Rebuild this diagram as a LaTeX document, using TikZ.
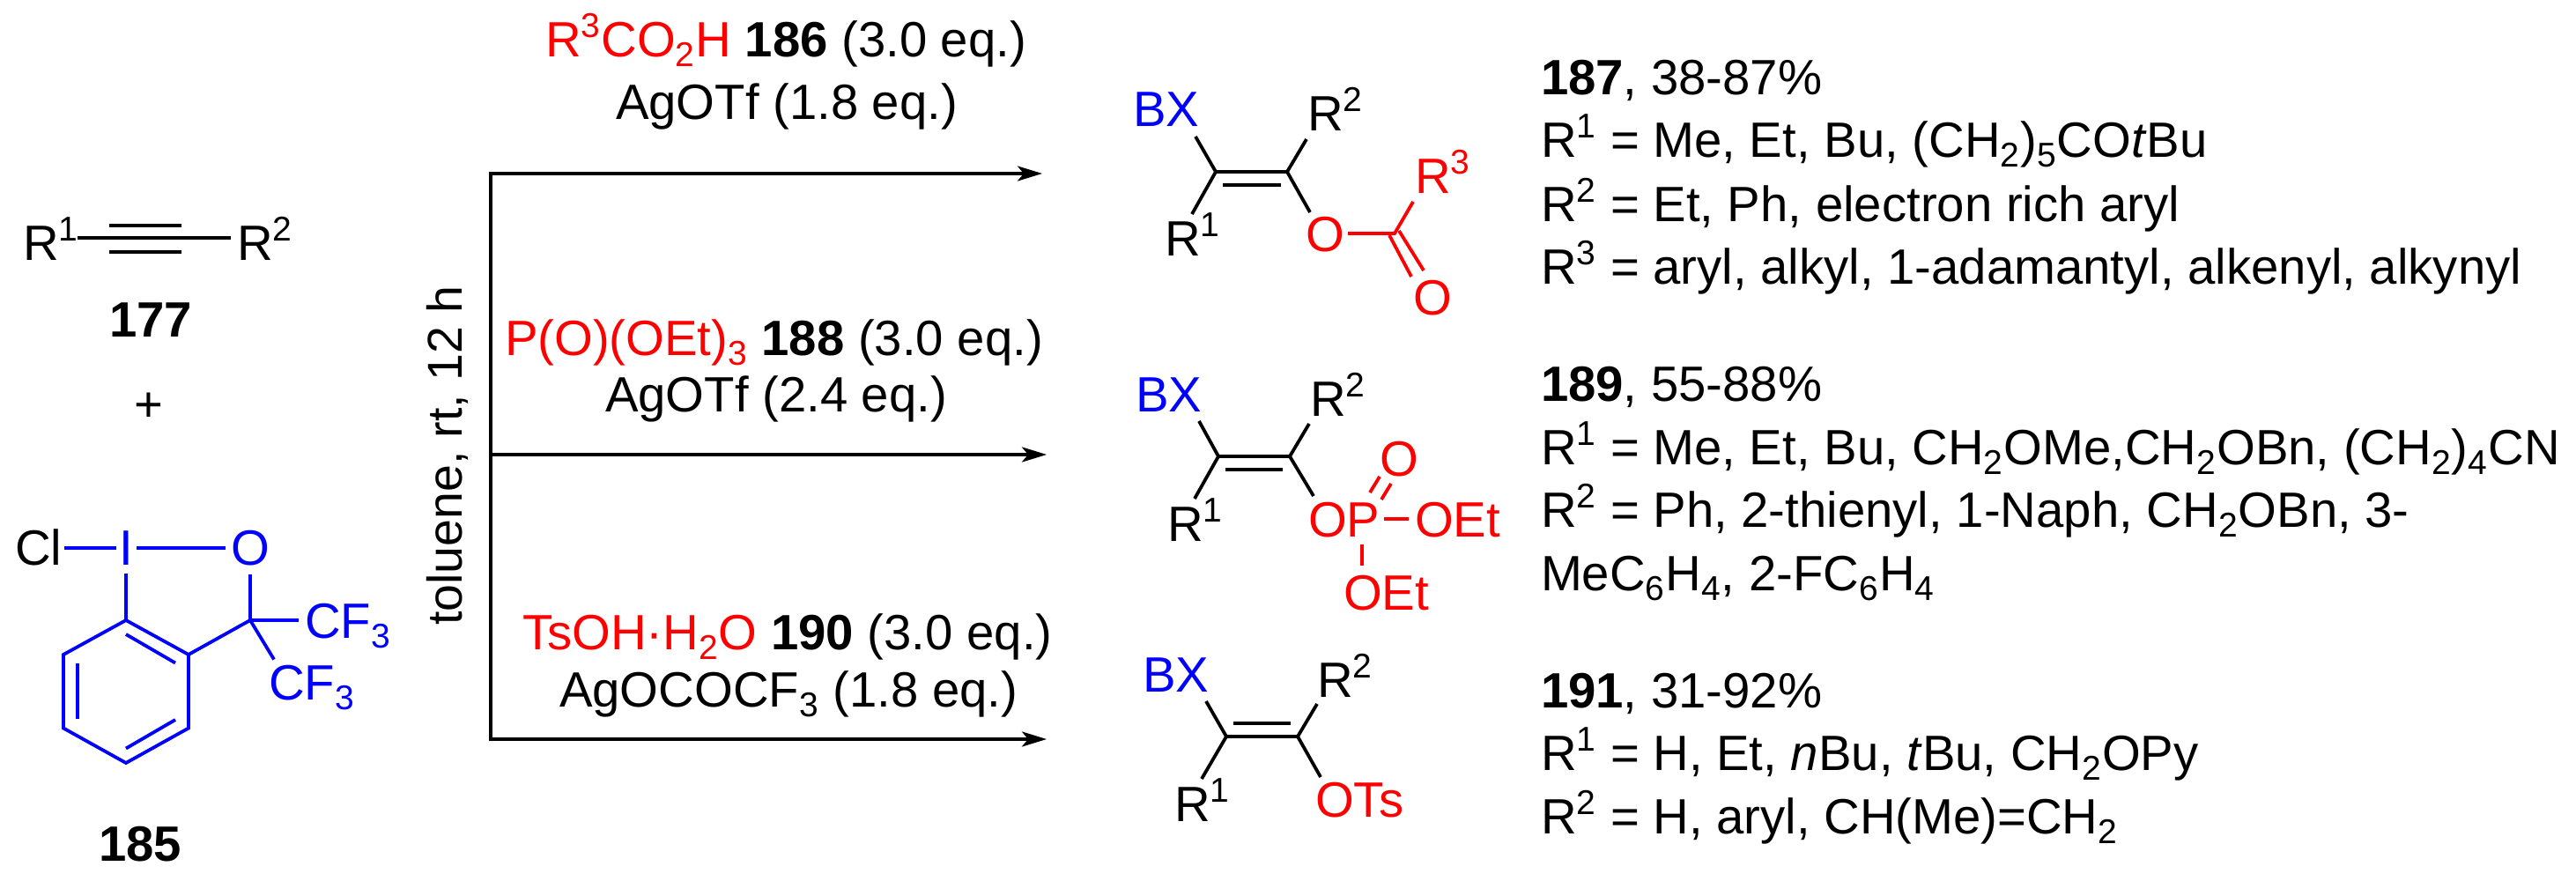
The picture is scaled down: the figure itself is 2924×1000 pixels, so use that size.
\documentclass[tikz,border=0pt]{standalone}
\usepackage{fontspec}
\usetikzlibrary{arrows.meta}
\setmainfont{Liberation Sans}
\newfontfamily\rotfont{Liberation Sans}
\newcommand{\supr}[1]{\raisebox{22pt}{\fontsize{39}{40}\selectfont #1}\kern1pt\relax}
\newcommand{\subr}[1]{\raisebox{-11pt}{\fontsize{39}{40}\selectfont #1}\kern1pt\relax}
\definecolor{cblue}{RGB}{0,0,255}
\definecolor{cred}{RGB}{255,0,0}
\tikzset{
  txt/.style={anchor=base west,inner sep=0pt,outer sep=0pt,font=\fontsize{56.3}{60}\selectfont},
  ctxt/.style={txt,anchor=base},
  bnd/.style={line width=3.8pt,line cap=butt,line join=miter},
  blbnd/.style={bnd,draw=cblue},
  rdbnd/.style={bnd,draw=cred},
  flow/.style={line width=3.4pt,-{Stealth[length=28pt,width=17pt,inset=7pt]}},
  trunk/.style={line width=3.4pt,line cap=rect},
}
\begin{document}
\begin{tikzpicture}[x=1pt,y=-1pt]
\useasboundingbox (0,0) rectangle (2924,1000);
% alkyne 177
\node[txt] (ra) at (26,296) {R\supr{1}};
\node[txt] (rb) at (269,296) {R\supr{2}};
\coordinate (alkL) at (88,270); \coordinate (alkR) at (262,270);
\coordinate (tuL) at (124,256); \coordinate (tuR) at (206,256);
\coordinate (tdL) at (124,286); \coordinate (tdR) at (206,286);
\draw[bnd] (alkL) -- (alkR);
\draw[bnd] (tuL) -- (tuR);
\draw[bnd] (tdL) -- (tdR);
\node[ctxt,font=\fontsize{56.3}{60}\selectfont\bfseries] (n177) at (171,382) {177};
\node[ctxt] (plus) at (169,478) {+};
% 185
\node[txt] (cl) at (17,641) {Cl};
\node[ctxt,text=cblue] (iod) at (143.5,641) {I};
\node[ctxt,text=cblue] (oxy) at (284,641) {O};
\node[txt,text=cblue] (cfa) at (346,724) {CF\subr{3}};
\node[txt,text=cblue] (cfb) at (305,794) {CF\subr{3}};
\coordinate (b1) at (143,704); \coordinate (b2) at (214,743); \coordinate (b3) at (214,826.5);
\coordinate (b4) at (143,866); \coordinate (b5) at (72,826.5); \coordinate (b6) at (72,743);
\coordinate (cq) at (284,704);
\coordinate (clE) at (73,622); \coordinate (iW) at (132,622); \coordinate (iE) at (155,622);
\coordinate (oW) at (256,622); \coordinate (iS) at (143,651); \coordinate (oS) at (284,652);
\coordinate (cfaW) at (339,704); \coordinate (cfbN) at (311,748.5);
\draw[blbnd] (clE) -- (iW);
\draw[blbnd] (iE) -- (oW);
\draw[blbnd] (iS) -- (b1);
\draw[blbnd] (oS) -- (cq);
\draw[blbnd] (cq) -- (cfaW);
\draw[blbnd] (cq) -- (cfbN);
\draw[blbnd] (b2) -- (cq);
\draw[blbnd] (b1) -- (b2) -- (b3) -- (b4) -- (b5) -- (b6) -- cycle;
\coordinate (d1a) at (143,720); \coordinate (d1b) at (199,752.5);
\coordinate (d2a) at (88,752.5); \coordinate (d2b) at (88,816);
\coordinate (d3a) at (143,849.5); \coordinate (d3b) at (199,817);
\draw[blbnd] (d1a) -- (d1b);
\draw[blbnd] (d2a) -- (d2b);
\draw[blbnd] (d3a) -- (d3b);
\node[ctxt,font=\fontsize{56.3}{60}\selectfont\bfseries] (n185) at (159,977) {185};
% conditions
\node[ctxt,rotate=90,font=\rotfont\fontsize{55.5}{60}\selectfont] (cond) at (524,517) {toluene, rt, 12 h};
\coordinate (t1) at (557,197); \coordinate (t2) at (557,516); \coordinate (t3) at (557,839);
\coordinate (e1) at (1183,197); \coordinate (e2) at (1188,516); \coordinate (e3) at (1188,839);
\draw[trunk] (t1) -- (t3);
\draw[flow] (t1) -- (e1);
\draw[flow] (t2) -- (e2);
\draw[flow] (t3) -- (e3);
\node[txt] (ra1) at (619,65) {{\color{cred}R\supr{3}CO\subr{2}H} \textbf{186} (3.0 eq.)};
\node[txt] (ra2) at (699,136) {AgOTf (1.8 eq.)};
\node[txt] (rb1) at (573,403) {{\color{cred}P(O)(OEt)\subr{3}} \textbf{188} (3.0 eq.)};
\node[txt] (rb2) at (687,467) {AgOTf (2.4 eq.)};
\node[txt] (rc1) at (593,737) {{\color{cred}TsOH\textperiodcentered H\subr{2}O} \textbf{190} (3.0 eq.)};
\node[txt] (rc2) at (635,802) {AgOCOCF\subr{3} (1.8 eq.)};
% product 187
\node[txt,text=cblue] (ax) at (1286,144) {BX};
\node[txt] (ar2) at (1484,149) {R\supr{2}};
\node[txt] (ar1) at (1322,291) {R\supr{1}};
\node[txt,text=cred] (aO) at (1482,286) {O};
\node[txt,text=cred] (ar3) at (1606,220) {R\supr{3}};
\node[txt,text=cred] (aOd) at (1604,357) {O};
\coordinate (ac1) at (1380,195); \coordinate (ac2) at (1461,195);
\coordinate (ai1) at (1388,210); \coordinate (ai2) at (1454,210);
\coordinate (abx) at (1357,155); \coordinate (abr2) at (1483,158);
\coordinate (abr1) at (1353,243); \coordinate (abo) at (1487,241);
\coordinate (aoE) at (1530,265); \coordinate (acc) at (1583,265); \coordinate (ar3S) at (1604,229);
\coordinate (adA) at (1577,267); \coordinate (adB) at (1602,314);
\coordinate (adC) at (1588,262); \coordinate (adD) at (1616,307);
\draw[bnd] (ac1) -- (ac2);
\draw[bnd] (ai1) -- (ai2);
\draw[bnd] (abx) -- (ac1) -- (abr1);
\draw[bnd] (abr2) -- (ac2) -- (abo);
\draw[rdbnd] (aoE) -- (acc) -- (ar3S);
\draw[rdbnd] (adA) -- (adB);
\draw[rdbnd] (adC) -- (adD);
% product 189
\node[txt,text=cblue] (bx) at (1289,467) {BX};
\node[txt] (br2) at (1487,472) {R\supr{2}};
\node[txt] (br1) at (1325,614) {R\supr{1}};
\node[txt,text=cred] (bOP) at (1485,609) {OP};
\node[txt,text=cred] (bOd) at (1566,540) {O};
\node[txt,text=cred] (bEt) at (1606,609) {OEt};
\node[txt,text=cred] (bEl) at (1525,692) {OEt};
\coordinate (bc1) at (1383,518); \coordinate (bc2) at (1464,518);
\coordinate (bi1) at (1391,533); \coordinate (bi2) at (1456,533);
\coordinate (bbx) at (1361,478); \coordinate (bbr2) at (1486,481);
\coordinate (bbr1) at (1356,566); \coordinate (bbo) at (1491,563);
\coordinate (bdA) at (1555,559); \coordinate (bdB) at (1566,541);
\coordinate (bdC) at (1568,567); \coordinate (bdD) at (1579,549);
\coordinate (bpE) at (1571,589); \coordinate (bpF) at (1599,589);
\coordinate (bpS) at (1546,618); \coordinate (bpT) at (1546,642);
\draw[bnd] (bc1) -- (bc2);
\draw[bnd] (bi1) -- (bi2);
\draw[bnd] (bbx) -- (bc1) -- (bbr1);
\draw[bnd] (bbr2) -- (bc2) -- (bbo);
\draw[rdbnd] (bdA) -- (bdB);
\draw[rdbnd] (bdC) -- (bdD);
\draw[rdbnd] (bpE) -- (bpF);
\draw[rdbnd] (bpS) -- (bpT);
% product 191
\node[txt,text=cblue] (cx) at (1297,785) {BX};
\node[txt] (cr2) at (1495,791) {R\supr{2}};
\node[txt] (cr1) at (1333,932) {R\supr{1}};
\node[txt,text=cred] (cOT) at (1493,927) {OTs};
\coordinate (cc1) at (1392,836); \coordinate (cc2) at (1473,836);
\coordinate (ci1) at (1400,821); \coordinate (ci2) at (1465,821);
\coordinate (cbx) at (1369,796); \coordinate (cbr2) at (1495,799);
\coordinate (cbr1) at (1364,884); \coordinate (cbo) at (1499,882);
\draw[bnd] (cc1) -- (cc2);
\draw[bnd] (ci1) -- (ci2);
\draw[bnd] (cbx) -- (cc1) -- (cbr1);
\draw[bnd] (cbr2) -- (cc2) -- (cbo);
% right-hand text
\node[txt] (ta0) at (1749,108) {\textbf{187}, 38-87\%};
\node[txt] (ta1) at (1749,179) {R\supr{1} = Me, Et, Bu, (CH\subr{2})\subr{5}CO\textit{t}Bu};
\node[txt] (ta2) at (1749,252) {R\supr{2} = Et, Ph, electron rich aryl};
\node[txt] (ta3) at (1749,323) {R\supr{3} = aryl, alkyl, 1-adamantyl, alkenyl, alkynyl};
\node[txt] (tb0) at (1749,455) {\textbf{189}, 55-88\%};
\node[txt] (tb1) at (1749,527) {R\supr{1} = Me, Et, Bu, CH\subr{2}OMe,CH\subr{2}OBn, (CH\subr{2})\subr{4}CN};
\node[txt] (tb2) at (1749,598) {R\supr{2} = Ph, 2-thienyl, 1-Naph, CH\subr{2}OBn, 3-};
\node[txt] (tb3) at (1749,670) {MeC\subr{6}H\subr{4}, 2-FC\subr{6}H\subr{4}};
\node[txt] (tc0) at (1749,803) {\textbf{191}, 31-92\%};
\node[txt] (tc1) at (1749,874) {R\supr{1} = H, Et, \textit{n}Bu, \textit{t}Bu, CH\subr{2}OPy};
\node[txt] (tc2) at (1749,946) {R\supr{2} = H, aryl, CH(Me)=CH\subr{2}};
\end{tikzpicture}
\end{document}
